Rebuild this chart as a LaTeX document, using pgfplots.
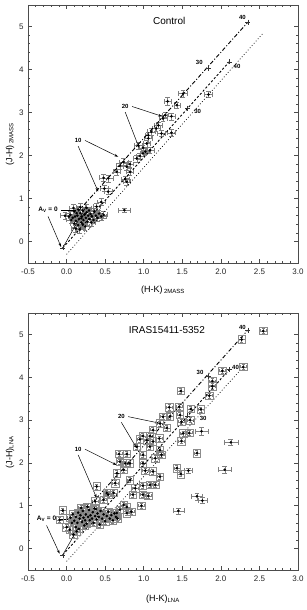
\documentclass[border=0pt]{standalone}
\usepackage{pgfplots}
\pgfplotsset{compat=1.18}
\usepackage{pgfplotstable}
\usepackage{fontspec}
\setmainfont{Liberation Sans}
\usetikzlibrary{arrows.meta}

\pgfplotstableread{
x y ex ey
1.84 3.42 0.05 0.07
1.51 3.44 0.06 0.08
1.31 3.26 0.04 0.09
1.43 3.17 0.04 0.06
1.25 2.86 0.05 0.07
1.36 2.91 0.05 0.08
1.28 2.94 0.04 0.06
1.19 2.70 0.05 0.07
1.16 2.63 0.05 0.07
1.10 2.55 0.05 0.08
1.23 2.51 0.05 0.07
1.36 2.53 0.05 0.08
1.06 2.47 0.04 0.07
1.06 2.40 0.05 0.08
1.04 2.28 0.05 0.08
0.99 2.18 0.05 0.07
0.93 2.23 0.05 0.08
1.08 2.12 0.05 0.07
0.95 1.99 0.05 0.07
0.91 1.93 0.05 0.08
0.99 2.05 0.04 0.07
1.02 2.09 0.05 0.07
0.74 1.85 0.06 0.08
0.69 1.76 0.05 0.07
0.82 1.80 0.05 0.07
0.78 1.74 0.05 0.08
0.65 1.62 0.05 0.07
0.82 1.62 0.05 0.08
0.48 1.48 0.06 0.08
0.54 1.47 0.06 0.08
0.76 1.45 0.05 0.07
0.78 1.39 0.05 0.08
0.49 1.23 0.05 0.07
0.54 1.16 0.05 0.07
0.45 0.92 0.05 0.08
0.39 0.81 0.05 0.08
0.75 0.73 0.08 0.05
0.05 0.62 0.06 0.08
0.08 0.55 0.05 0.08
0.10 0.70 0.06 0.08
0.12 0.48 0.05 0.08
0.14 0.60 0.06 0.08
0.15 0.38 0.05 0.08
0.16 0.52 0.06 0.08
0.18 0.66 0.05 0.08
0.19 0.44 0.06 0.08
0.20 0.58 0.05 0.08
0.21 0.72 0.06 0.08
0.22 0.50 0.05 0.08
0.23 0.62 0.06 0.08
0.24 0.35 0.05 0.08
0.25 0.55 0.06 0.08
0.26 0.68 0.05 0.08
0.27 0.46 0.06 0.08
0.28 0.60 0.05 0.08
0.30 0.52 0.06 0.08
0.31 0.64 0.05 0.08
0.33 0.58 0.06 0.08
0.35 0.50 0.05 0.08
0.36 0.70 0.06 0.08
0.38 0.60 0.05 0.08
0.40 0.55 0.06 0.08
0.42 0.65 0.05 0.08
0.45 0.58 0.06 0.08
0.48 0.62 0.05 0.08
0.12 0.30 0.06 0.08
0.10 0.42 0.05 0.08
0.06 0.50 0.06 0.08
0.03 0.58 0.05 0.08
-0.02 0.60 0.06 0.08
0.09 0.78 0.05 0.08
0.18 0.80 0.06 0.08
0.13 0.66 0.05 0.08
0.17 0.28 0.06 0.08
0.21 0.40 0.05 0.08
0.26 0.78 0.06 0.08
0.32 0.44 0.05 0.08
0.11 0.58 0.06 0.08
0.19 0.54 0.05 0.08
0.24 0.64 0.06 0.08
0.29 0.72 0.05 0.08
0.15 0.74 0.06 0.08
}\topdata

\pgfplotstableread{
x y ex ey
2.55 5.08 0.04 0.06
2.27 4.88 0.04 0.06
2.29 4.24 0.04 0.06
2.02 4.15 0.04 0.06
1.89 3.91 0.04 0.06
1.89 3.79 0.04 0.06
1.85 3.57 0.04 0.06
1.48 3.68 0.04 0.06
1.33 3.30 0.04 0.06
1.46 3.31 0.04 0.06
1.61 3.26 0.04 0.06
1.74 3.25 0.04 0.06
1.34 3.09 0.04 0.06
1.47 3.12 0.04 0.06
1.49 2.96 0.04 0.06
1.60 3.00 0.04 0.06
1.25 3.08 0.04 0.06
1.21 2.92 0.04 0.06
1.30 2.82 0.04 0.06
1.51 2.69 0.04 0.06
1.59 2.70 0.04 0.06
1.49 2.51 0.04 0.06
1.69 2.23 0.04 0.06
1.12 2.77 0.04 0.06
0.99 2.63 0.04 0.06
1.08 2.63 0.04 0.06
0.95 2.55 0.04 0.06
1.04 2.53 0.04 0.06
1.12 2.50 0.04 0.06
1.20 2.57 0.04 0.06
0.91 2.38 0.04 0.06
1.08 2.38 0.04 0.06
1.21 2.30 0.04 0.06
1.23 2.19 0.04 0.06
0.99 2.19 0.04 0.06
1.15 2.11 0.04 0.06
0.68 2.21 0.04 0.06
0.78 2.21 0.04 0.06
0.69 2.03 0.04 0.06
0.76 1.99 0.04 0.06
0.82 1.99 0.04 0.06
0.99 1.99 0.04 0.06
0.74 1.84 0.04 0.06
1.43 1.88 0.04 0.06
1.48 1.74 0.04 0.06
1.02 1.82 0.04 0.06
1.12 1.80 0.04 0.06
1.21 1.68 0.04 0.06
0.82 1.60 0.04 0.06
0.63 1.53 0.04 0.06
0.99 1.47 0.04 0.06
1.08 1.49 0.04 0.06
1.15 1.49 0.04 0.06
0.89 1.41 0.04 0.06
0.99 1.26 0.04 0.06
1.06 1.23 0.04 0.06
0.86 1.26 0.04 0.06
0.54 1.26 0.04 0.06
0.39 1.45 0.04 0.06
0.65 1.76 0.04 0.06
0.61 1.30 0.04 0.06
0.52 1.30 0.04 0.06
0.48 1.14 0.04 0.06
0.37 1.10 0.04 0.06
0.74 1.02 0.04 0.06
0.78 0.97 0.04 0.06
0.69 0.91 0.04 0.06
0.78 0.83 0.04 0.06
0.65 0.83 0.04 0.06
0.97 1.00 0.04 0.06
0.84 0.86 0.04 0.06
-0.09 0.67 0.04 0.06
-0.05 0.89 0.04 0.06
0.00 0.50 0.04 0.06
0.04 0.44 0.04 0.06
0.09 0.33 0.04 0.06
0.05 0.72 0.04 0.06
0.08 0.80 0.04 0.06
0.10 0.65 0.04 0.06
0.12 0.74 0.04 0.06
0.14 0.60 0.04 0.06
0.15 0.84 0.04 0.06
0.17 0.70 0.04 0.06
0.18 0.78 0.04 0.06
0.20 0.62 0.04 0.06
0.21 0.88 0.04 0.06
0.22 0.72 0.04 0.06
0.24 0.66 0.04 0.06
0.25 0.80 0.04 0.06
0.26 0.58 0.04 0.06
0.28 0.74 0.04 0.06
0.29 0.90 0.04 0.06
0.30 0.66 0.04 0.06
0.31 0.78 0.04 0.06
0.33 0.70 0.04 0.06
0.34 0.85 0.04 0.06
0.35 0.60 0.04 0.06
0.37 0.76 0.04 0.06
0.38 0.92 0.04 0.06
0.39 0.68 0.04 0.06
0.40 0.82 0.04 0.06
0.42 0.74 0.04 0.06
0.43 0.56 0.04 0.06
0.44 0.88 0.04 0.06
0.46 0.70 0.04 0.06
0.48 0.80 0.04 0.06
0.50 0.64 0.04 0.06
0.52 0.76 0.04 0.06
0.54 0.86 0.04 0.06
0.56 0.70 0.04 0.06
0.58 0.78 0.04 0.06
0.60 0.66 0.04 0.06
0.62 0.82 0.04 0.06
0.64 0.74 0.04 0.06
0.66 0.70 0.04 0.06
0.12 0.50 0.04 0.06
0.16 0.46 0.04 0.06
0.07 0.60 0.04 0.06
0.19 0.95 0.04 0.06
0.27 0.98 0.04 0.06
0.23 0.54 0.04 0.06
0.13 0.40 0.04 0.06
0.36 0.94 0.04 0.06
}\botdata

\pgfplotstableread{
x y ex ey
1.75 2.74 0.08 0.10
2.13 2.48 0.09 0.07
2.05 1.84 0.08 0.08
1.69 1.22 0.07 0.08
1.76 1.12 0.06 0.07
1.45 0.88 0.07 0.07
1.58 1.82 0.05 0.05
}\botout

\tikzset{
  lab/.style={font=\bfseries\fontsize{6}{7}\selectfont},
  labA/.style={font=\bfseries\fontsize{6.5}{7}\selectfont},
  arr/.style={-{Stealth[length=4pt,width=2.5pt]}, line width=0.5pt},
}

\pgfplotsset{
  ccd/.style={
    scale only axis, width=270pt, anchor=south west,
    xmin=-0.5, xmax=3.0, ymin=-0.5, ymax=5.5,
    xtick={-0.5,0,0.5,1,1.5,2,2.5,3}, ytick={0,1,2,3,4,5},
    minor x tick num=4, minor y tick num=4,
    tick align=inside, major tick length=4pt, minor tick length=2pt,
    xticklabel style={/pgf/number format/fixed, /pgf/number format/fixed zerofill, /pgf/number format/precision=1, yshift=-2pt},
    /pgf/number format/assume math mode=true,
    yticklabel style={xshift=-1pt},
    tick label style={font=\fontsize{8}{9}\selectfont, text=black!85},
    axis line style={line width=0.7pt, black!70},
    every tick/.style={black!70, line width=0.5pt},
    clip=false,
  },
  ebar/.style={only marks, mark=*, mark size=1.1pt, black,
    error bars/.cd, x dir=both, x explicit, y dir=both, y explicit,
    error bar style={black!50, line width=0.4pt},
    error mark options={black!50, mark size=#1, line width=0.4pt, rotate=90}},
  ebar/.default=2.4pt,
  ddash/.style={black, line width=0.9pt, dash pattern=on 4pt off 2pt on 1pt off 2pt},
  dsh/.style={black, line width=0.9pt, dash pattern=on 2.2pt off 2pt},
  dtt/.style={black, line width=0.7pt, dash pattern=on 0.8pt off 2.2pt},
}

\begin{document}
\begin{tikzpicture}[x=1pt,y=1pt]
\path[use as bounding box] (0,0) rectangle (307,610);

% ---------------- top panel ----------------
\begin{axis}[ccd, at={(28pt,347pt)}, height=258pt]
\addplot[ebar] table[x=x, y=y, x error=ex, y error=ey] \topdata;
\addplot[ddash] coordinates {(0.15,0.70) (2.35,5.10)};
\addplot[dsh] coordinates {(-0.05,-0.15) (2.11,4.18)};
\addplot[dtt] coordinates {(0.00,-0.30) (2.55,4.85)};
\addplot[black, line width=0.5pt] coordinates {(-0.05,-0.15) (0.25,0.80)};
\addplot[only marks, mark=+, mark size=2.5pt, black!80] coordinates {(2.35,5.10) (1.84,4.02) (2.11,4.18) (1.57,3.10) (-0.05,-0.15)};
\node[font=\fontsize{10}{12}\selectfont] at (axis cs:1.33,5.14) {Control};
\node[lab] at (axis cs:2.28,5.20) {40};
\node[lab] at (axis cs:1.72,4.16) {30};
\node[lab] at (axis cs:2.21,4.06) {40};
\node[lab] at (axis cs:1.70,3.02) {30};
\node[lab] (t20) at (axis cs:0.76,3.14) {20};
\draw[arr] (t20.east) -- (axis cs:1.24,2.91);
\draw[arr] (t20.south) -- (axis cs:0.94,2.18);
\node[lab] (t10) at (axis cs:0.15,2.35) {10};
\draw[arr] (t10.east) -- (axis cs:0.67,1.97);
\draw[arr] (t10.south) -- (axis cs:0.41,1.16);
\node[labA] (t0) at (axis cs:-0.24,0.73) {A\textsubscript{V} = 0};
\draw[line width=0.5pt] (t0.east) -- (axis cs:0.12,0.73);
\draw[arr] (t0.south) -- (axis cs:-0.07,-0.13);
\end{axis}

% ---------------- bottom panel ----------------
\begin{axis}[ccd, at={(28pt,40pt)}, height=257pt]
\addplot[only marks, mark=square, mark size=3.8pt, black!45, line width=0.6pt] table[x=x, y=y] \botdata;
\addplot[ebar=1.5pt] table[x=x, y=y, x error=ex, y error=ey] \botdata;
\addplot[ebar] table[x=x, y=y, x error=ex, y error=ey] \botout;
\addplot[ddash] coordinates {(0.15,0.70) (2.35,5.10)};
\addplot[dsh] coordinates {(-0.05,-0.15) (2.11,4.18)};
\addplot[dtt] coordinates {(0.00,-0.30) (2.27,4.20)};
\addplot[black, line width=0.5pt] coordinates {(-0.05,-0.15) (0.25,0.80)};
\addplot[only marks, mark=+, mark size=2.5pt, black!80] coordinates {(2.35,5.10) (1.84,4.02) (2.11,4.18) (1.57,3.10) (-0.05,-0.15)};
\node[font=\fontsize{10}{12}\selectfont] at (axis cs:1.30,5.10) {IRAS15411-5352};
\node[lab] at (axis cs:2.28,5.17) {40};
\node[lab] at (axis cs:1.73,4.12) {30};
\node[lab] at (axis cs:2.19,4.24) {40};
\node[lab] at (axis cs:1.77,3.05) {30};
\node[lab] (b20) at (axis cs:0.71,3.08) {20};
\draw[arr] (b20.east) -- (axis cs:1.20,2.93);
\draw[arr] (b20.south) -- (axis cs:0.91,2.34);
\node[lab] (b10) at (axis cs:0.15,2.32) {10};
\draw[arr] (b10.east) -- (axis cs:0.65,1.95);
\draw[arr] (b10.south) -- (axis cs:0.39,1.18);
\node[labA] (b0) at (axis cs:-0.26,0.69) {A\textsubscript{V} = 0};
\draw[line width=0.5pt] (b0.east) -- (axis cs:0.05,0.69);
\draw[arr] (b0.south) -- (axis cs:-0.09,-0.12);
\end{axis}

% axis labels
\node[rotate=90, font=\fontsize{9}{10}\selectfont] at (10,466) {(J-H)\,\textsubscript{2MASS}};
\node[font=\fontsize{9}{10}\selectfont] at (163,320) {(H-K)\,\textsubscript{2MASS}};
\node[rotate=90, font=\fontsize{9}{10}\selectfont] at (10,158) {(J-H)\textsubscript{LNA}};
\node[font=\fontsize{9}{10}\selectfont] at (163,11) {(H-K)\textsubscript{LNA}};
\end{tikzpicture}
\end{document}
